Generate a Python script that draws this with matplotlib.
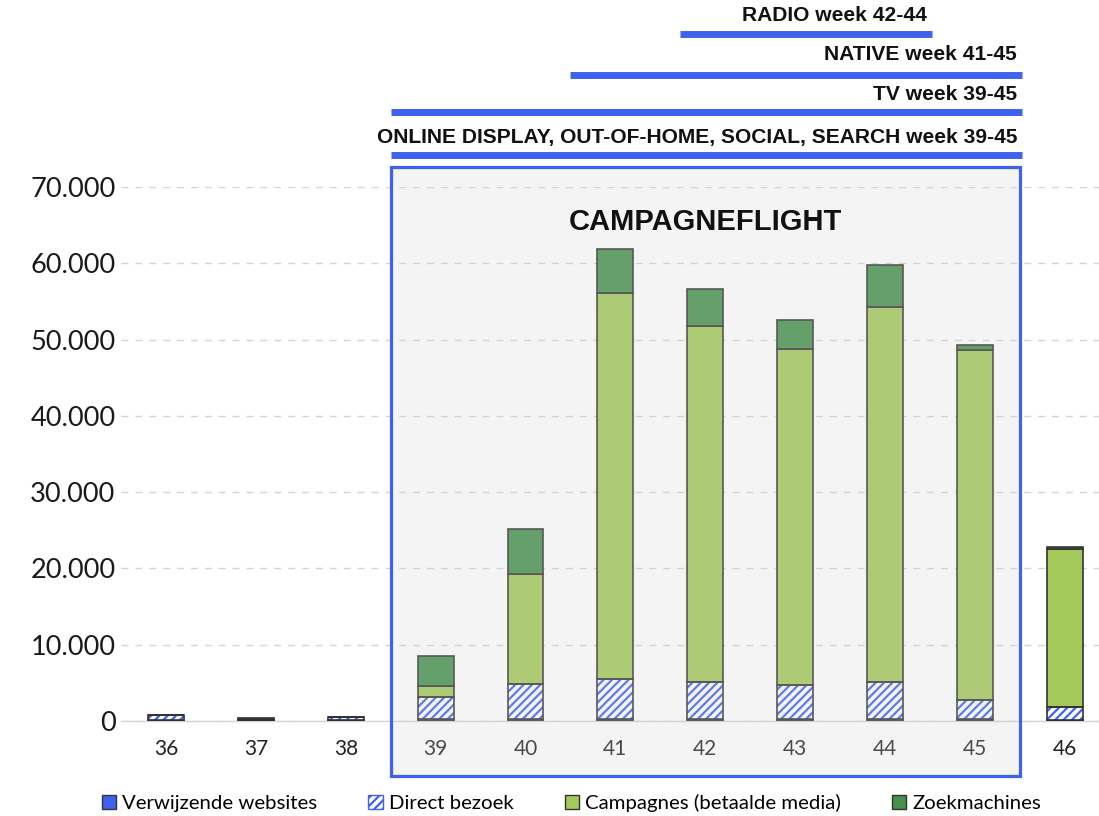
import matplotlib
matplotlib.use("Agg")
import matplotlib.pyplot as plt
from matplotlib.patches import Rectangle, Patch
from matplotlib.ticker import FuncFormatter
import numpy as np

# Weekly visits per traffic source
weeks = [36, 37, 38, 39, 40, 41, 42, 43, 44, 45, 46]
verwijzende = [100, 80, 100, 250, 300, 300, 300, 300, 300, 250, 150]
direct = [650, 150, 400, 2900, 4600, 5200, 4800, 4400, 4800, 2500, 1650]
campagnes = [0, 0, 0, 1450, 14400, 50600, 46700, 44100, 49200, 45850, 20700]
zoekmachines = [50, 150, 50, 3900, 5900, 5800, 4800, 3800, 5500, 700, 300]

series_labels = ["Verwijzende websites", "Direct bezoek",
                 "Campagnes (betaalde media)", "Zoekmachines"]

# Media flights: label, first week, last week
flights = [
    ("RADIO week 42-44", 42, 44),
    ("NATIVE week 41-45", 41, 45),
    ("TV week 39-45", 39, 45),
    ("ONLINE DISPLAY, OUT-OF-HOME, SOCIAL, SEARCH week 39-45", 39, 45),
]
flight_title = "CAMPAGNEFLIGHT"
flight_start, flight_end = 39, 45

BLUE = "#3d63ee"
CAMP = "#a2c95a"
ZOEK = "#45904a"
EDGE = "#333333"

plt.rcParams["hatch.linewidth"] = 1.6
fig = plt.figure(figsize=(10.99, 8.16), dpi=100)
ax = fig.add_axes([121 / 1099, 1 - 721 / 816, 1 - 121 / 1099, (721 - 187) / 816])

x = np.array(weeks, dtype=float)
w = 0.40
v = np.array(verwijzende, float)
d = np.array(direct, float)
c = np.array(campagnes, float)
z = np.array(zoekmachines, float)

ax.bar(x, v, w, color=BLUE, edgecolor=EDGE, linewidth=1.2, zorder=3)
ax.bar(x, d, w, bottom=v, color="white", edgecolor=BLUE, hatch="////",
       linewidth=0, zorder=3)
ax.bar(x, d, w, bottom=v, fill=False, edgecolor=EDGE, linewidth=1.2, zorder=3.1)
ax.bar(x, c, w, bottom=v + d, color=CAMP, edgecolor=EDGE, linewidth=1.2, zorder=3)
ax.bar(x, z, w, bottom=v + d + c, color=ZOEK, edgecolor=EDGE, linewidth=1.2, zorder=3)

ax.set_xlim(35.5, 46.38)
ax.set_ylim(0, 70000)
ax.set_yticks(np.arange(0, 70001, 10000))
ax.yaxis.set_major_formatter(FuncFormatter(lambda val, _: f"{int(val):,}".replace(",", ".")))
ax.set_xticks(weeks)
ax.set_xticklabels([str(wk) for wk in weeks])
ax.tick_params(axis="y", length=0, labelsize=19.5, labelcolor="#1a1a1a", pad=4)
ax.tick_params(axis="x", length=0, labelsize=15, labelcolor="#222222", pad=13)
for lab in ax.get_yticklabels() + ax.get_xticklabels():
    lab.set_fontfamily("Lato")
ax.grid(axis="y", color="#d4d4d4", linestyle=(0, (5, 5)), linewidth=1, zorder=0)
for s in ["top", "right", "left"]:
    ax.spines[s].set_visible(False)
ax.spines["bottom"].set_color("#d4d4d4")
ax.spines["bottom"].set_linewidth(1)
ax.set_facecolor("none")

# Campaign flight box: gray wash over the bars plus a blue frame
lo, hi = flight_start - 0.5, flight_end + 0.5
box_top, box_bottom = 72600, -7200
ax.add_patch(Rectangle((lo, box_bottom), hi - lo, box_top - box_bottom,
                       facecolor="#d3d3d3", alpha=0.23, edgecolor="none",
                       clip_on=False, zorder=4))
ax.add_patch(Rectangle((lo, box_bottom), hi - lo, box_top - box_bottom,
                       facecolor="none", edgecolor=BLUE, linewidth=2.3,
                       clip_on=False, zorder=5))
ax.text((lo + hi) / 2, 65400, flight_title, ha="center", va="center",
        fontsize=21, fontweight="bold", family="Liberation Sans",
        color="#111111", zorder=6)

# Media flight bars above the chart
line_y = [90100, 84700, 79800, 74200]
text_y = [92500, 87350, 82100, 76500]
starts = [0.28, 0.5, 0.5, 0.5]
for (label, a, b), ly, ty, s in zip(flights, line_y, text_y, starts):
    ax.plot([a - s, b + 0.52], [ly, ly], color=BLUE, linewidth=5,
            solid_capstyle="butt", clip_on=False, zorder=5)
    ax.text(b + 0.47, ty, label, ha="right", va="center", fontsize=15.1,
            fontweight="bold", family="Liberation Sans", color="#111111",
            clip_on=False)

handles = [
    Patch(facecolor=BLUE, edgecolor=EDGE, linewidth=1),
    Patch(facecolor="white", edgecolor=BLUE, hatch="////", linewidth=1),
    Patch(facecolor=CAMP, edgecolor=EDGE, linewidth=1),
    Patch(facecolor=ZOEK, edgecolor=EDGE, linewidth=1),
]
fig.legend(handles, series_labels, loc="center", bbox_to_anchor=(0.52, 0.016),
           ncol=4, frameon=False, handlelength=0.7, handleheight=0.7,
           handletextpad=0.3, columnspacing=2.5,
           prop={"family": "Lato", "size": 14.7})

fig.savefig("out.png", dpi=100)
